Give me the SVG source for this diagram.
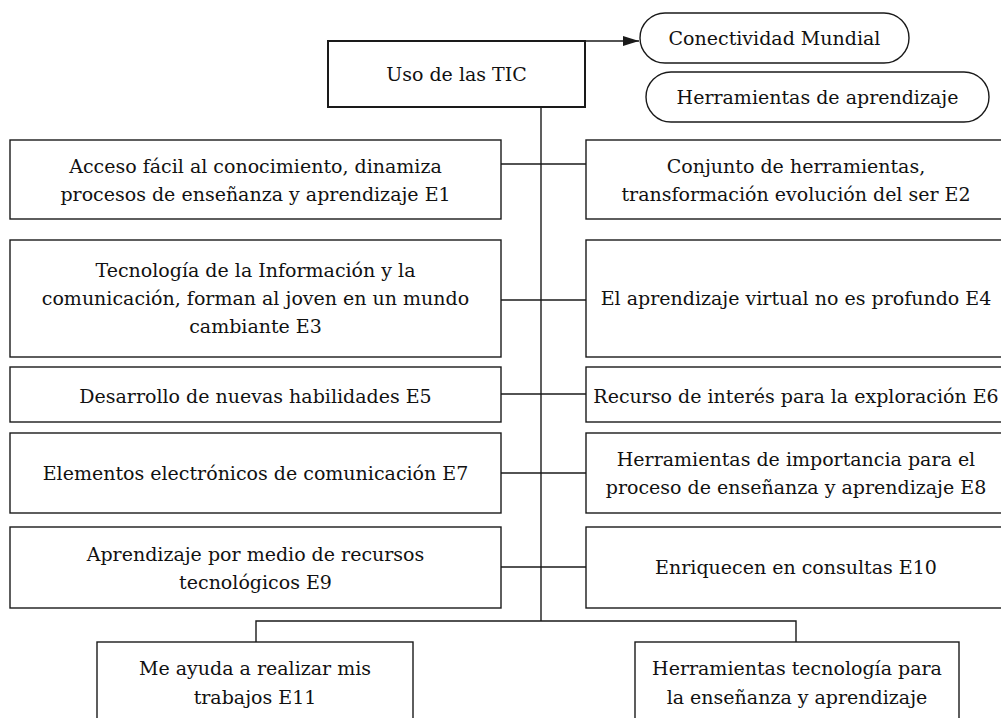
<svg xmlns="http://www.w3.org/2000/svg" width="1001" height="718" viewBox="0 0 1001 718">
<defs>
<style>
.box{fill:#fff;stroke:#1a1a1a;stroke-width:1.4}
.main{fill:#fff;stroke:#1a1a1a;stroke-width:2}
.pill{fill:#fff;stroke:#1a1a1a;stroke-width:1.4}
.ln{fill:none;stroke:#1a1a1a;stroke-width:1.4}
text{font-family:"DejaVu Serif","Liberation Serif",serif;font-size:19px;fill:#111;text-anchor:middle}
</style>
<marker id="arr" viewBox="0 0 10 10" refX="10" refY="5" markerWidth="16" markerHeight="10" markerUnits="userSpaceOnUse" orient="auto" preserveAspectRatio="none">
<path d="M0,0 L10,5 L0,10 z" fill="#1a1a1a"/>
</marker>
</defs>
<rect width="1001" height="718" fill="#fff"/>
<g id="connectors">
<path class="ln" d="M585,41 H639" marker-end="url(#arr)"/>
<path class="ln" d="M541,107 V621"/>
<path class="ln" d="M256,642 V621 H796 V642"/>
<path class="ln" d="M501,164 H586"/>
<path class="ln" d="M501,300 H586"/>
<path class="ln" d="M501,394 H586"/>
<path class="ln" d="M501,473 H586"/>
<path class="ln" d="M501,567 H586"/>
</g>
<g id="uso">
<rect class="main" x="328" y="41" width="257" height="66"/>
<text x="456.5" y="81">Uso de las TIC</text>
</g>
<g id="conectividad">
<rect class="pill" x="640" y="13" width="269" height="50" rx="25"/>
<text x="774.5" y="45">Conectividad Mundial</text>
</g>
<g id="herramientas">
<rect class="pill" x="646" y="72" width="343" height="50" rx="25"/>
<text x="817.5" y="104">Herramientas de aprendizaje</text>
</g>
<g id="e1">
<rect class="box" x="10" y="140" width="491" height="79"/>
<text x="255.5" y="173">Acceso fácil al conocimiento, dinamiza</text>
<text x="255.5" y="201">procesos de enseñanza y aprendizaje E1</text>
</g>
<g id="e2">
<rect class="box" x="586" y="140" width="420" height="79"/>
<text x="796" y="173">Conjunto de herramientas,</text>
<text x="796" y="201">transformación evolución del ser E2</text>
</g>
<g id="e3">
<rect class="box" x="10" y="240" width="491" height="117"/>
<text x="255.5" y="277">Tecnología de la Información y la</text>
<text x="255.5" y="305">comunicación, forman al joven en un mundo</text>
<text x="255.5" y="333">cambiante E3</text>
</g>
<g id="e4">
<rect class="box" x="586" y="240" width="420" height="117"/>
<text x="796" y="305">El aprendizaje virtual no es profundo E4</text>
</g>
<g id="e5">
<rect class="box" x="10" y="367" width="491" height="55"/>
<text x="255.5" y="403">Desarrollo de nuevas habilidades E5</text>
</g>
<g id="e6">
<rect class="box" x="586" y="367" width="420" height="55"/>
<text x="796" y="403">Recurso de interés para la exploración E6</text>
</g>
<g id="e7">
<rect class="box" x="10" y="433" width="491" height="80"/>
<text x="255.5" y="480">Elementos electrónicos de comunicación E7</text>
</g>
<g id="e8">
<rect class="box" x="586" y="433" width="420" height="80"/>
<text x="796" y="466">Herramientas de importancia para el</text>
<text x="796" y="494">proceso de enseñanza y aprendizaje E8</text>
</g>
<g id="e9">
<rect class="box" x="10" y="527" width="491" height="81"/>
<text x="255.5" y="561">Aprendizaje por medio de recursos</text>
<text x="255.5" y="589">tecnológicos E9</text>
</g>
<g id="e10">
<rect class="box" x="586" y="527" width="420" height="81"/>
<text x="796" y="574">Enriquecen en consultas E10</text>
</g>
<g id="e11">
<rect class="box" x="97" y="642" width="316" height="90"/>
<text x="255" y="675">Me ayuda a realizar mis</text>
<text x="255" y="704">trabajos E11</text>
</g>
<g id="e12">
<rect class="box" x="635" y="642" width="324" height="90"/>
<text x="797" y="675">Herramientas tecnología para</text>
<text x="797" y="704">la enseñanza y aprendizaje</text>
</g>
</svg>
